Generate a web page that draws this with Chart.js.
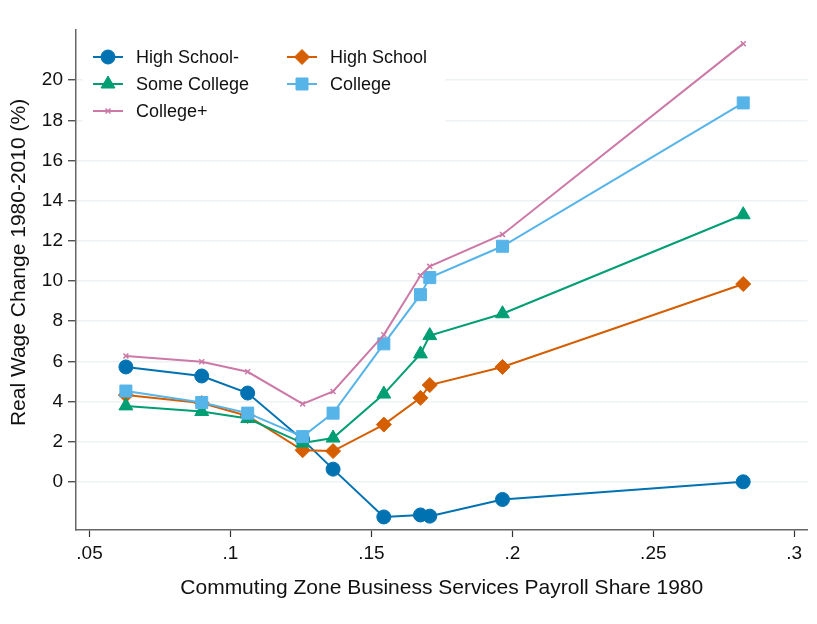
<!DOCTYPE html>
<html>
<head>
<meta charset="utf-8">
<script src="https://cdn.jsdelivr.net/npm/chart.js@4"></script>
<style>
  html, body { margin: 0; padding: 0; background: #fff; }
  #wrap { width: 817px; height: 624px; }
</style>
</head>
<body>
<div id="wrap"><canvas id="wages" width="817" height="624"></canvas></div>
<script>
// payroll share 1980 (x) for each commuting zone group
const payrollShare = [0.0629, 0.0898, 0.1061, 0.1256, 0.1364, 0.1544, 0.1674, 0.1707, 0.1965, 0.2819];

// real wage change 1980-2010 (%), by education
const highSchoolMinus = [5.72, 5.27, 4.42, 2.1, 0.63, -1.75, -1.65, -1.71, -0.88, 0.0];
const highSchool = [4.32, 3.92, 3.28, 1.57, 1.53, 2.85, 4.18, 4.82, 5.72, 9.85];
const someCollege = [3.78, 3.5, 3.15, 1.93, 2.18, 4.37, 6.37, 7.28, 8.37, 13.3];
const college = [4.52, 3.95, 3.42, 2.25, 3.42, 6.87, 9.32, 10.17, 11.73, 18.87];
const collegePlus = [6.27, 5.98, 5.48, 3.88, 4.5, 7.32, 10.27, 10.73, 12.32, 21.82];

const xTicks = [0.05, 0.1, 0.15, 0.2, 0.25, 0.3];
const xTickLabels = ['.05', '.1', '.15', '.2', '.25', '.3'];
const yTicks = [0, 2, 4, 6, 8, 10, 12, 14, 16, 18, 20];

const FONT = "'Liberation Sans', Arial, Helvetica, sans-serif";

function series(label, values, color, style, radius, order) {
    return {
        label: label,
        data: values.map((v, i) => ({ x: payrollShare[i], y: v })),
        borderColor: color,
        backgroundColor: color,
        borderWidth: 2,
        pointStyle: style,
        pointRadius: radius,
        pointHoverRadius: radius,
        pointBorderWidth: style === 'crossRot' ? 1.5 : 1,
        pointBackgroundColor: color,
        pointBorderColor: color,
        tension: 0,
        order: order
    };
}

// legend drawn inside the plot region, two columns
const insideLegend = {
    id: 'insideLegend',
    beforeDatasetsDraw(chart) {
        const ctx = chart.ctx;
        ctx.save();
        ctx.fillStyle = '#fff';
        ctx.fillRect(83, 31, 362, 104);
        const slots = [
            [93, 57], [287, 57],
            [93, 84], [287, 84],
            [93, 111]
        ];
        chart.data.datasets.forEach((ds, i) => {
            const [lx, ly] = slots[i];
            ctx.strokeStyle = ds.borderColor;
            ctx.lineWidth = 2;
            ctx.beginPath();
            ctx.moveTo(lx, ly);
            ctx.lineTo(lx + 30, ly);
            ctx.stroke();
            ctx.fillStyle = ds.backgroundColor;
            ctx.strokeStyle = ds.borderColor;
            ctx.lineWidth = ds.pointBorderWidth;
            Chart.helpers.drawPoint(ctx, {
                pointStyle: ds.pointStyle,
                radius: ds.pointRadius,
                rotation: 0,
                borderWidth: ds.pointBorderWidth
            }, lx + 15, ly);
            ctx.fillStyle = '#111';
            ctx.font = '18px ' + FONT;
            ctx.textBaseline = 'middle';
            ctx.textAlign = 'left';
            ctx.fillText(ds.label, lx + 43, ly + 1);
        });
        ctx.restore();
    }
};

new Chart(document.getElementById('wages').getContext('2d'), {
    type: 'line',
    data: {
        datasets: [
            series('High School-', highSchoolMinus, '#0072B2', 'circle', 7, 5),
            series('High School', highSchool, '#D55E00', 'rectRot', 7.5, 4),
            series('Some College', someCollege, '#009E73', 'triangle', 8, 3),
            series('College', college, '#56B4E9', 'rect', 8.5, 2),
            series('College+', collegePlus, '#CC79A7', 'crossRot', 3.5, 1)
        ]
    },
    options: {
        responsive: false,
        animation: false,
        layout: { padding: { top: 30, right: 9, left: 0, bottom: 0 } },
        plugins: {
            legend: { display: false },
            tooltip: { enabled: false }
        },
        scales: {
            x: {
                type: 'linear',
                position: 'bottom',
                min: 0.0452,
                max: 0.3047,
                afterBuildTicks: (scale) => { scale.ticks = xTicks.map(v => ({ value: v })); },
                afterFit: (scale) => { scale.height = 94; },
                ticks: {
                    callback: (v, i) => xTickLabels[i],
                    color: '#111',
                    font: { family: FONT, size: 19 },
                    padding: 5,
                    maxRotation: 0
                },
                grid: {
                    drawOnChartArea: false,
                    drawTicks: true,
                    tickLength: 7,
                    tickColor: '#333',
                    tickWidth: 1.2
                },
                border: { display: true, color: '#666', width: 1.5 },
                title: {
                    display: true,
                    text: 'Commuting Zone Business Services Payroll Share 1980',
                    color: '#111',
                    font: { family: FONT, size: 21 },
                    padding: { top: 0, bottom: 23 }
                }
            },
            y: {
                type: 'linear',
                min: -2.4,
                max: 22.5,
                afterBuildTicks: (scale) => { scale.ticks = yTicks.map(v => ({ value: v })); },
                afterFit: (scale) => { scale.width = 76; },
                ticks: {
                    color: '#111',
                    font: { family: FONT, size: 19 },
                    padding: 5
                },
                grid: {
                    color: '#edf2f4',
                    lineWidth: 1.5,
                    tickColor: '#333',
                    tickWidth: 1.2,
                    tickLength: 8
                },
                border: { display: true, color: '#666', width: 1.5 },
                title: {
                    display: true,
                    text: '      Real Wage Change 1980-2010 (%)',
                    color: '#111',
                    font: { family: FONT, size: 21 },
                    padding: { top: 7, bottom: 0 }
                }
            }
        }
    },
    plugins: [insideLegend]
});
</script>
</body>
</html>
